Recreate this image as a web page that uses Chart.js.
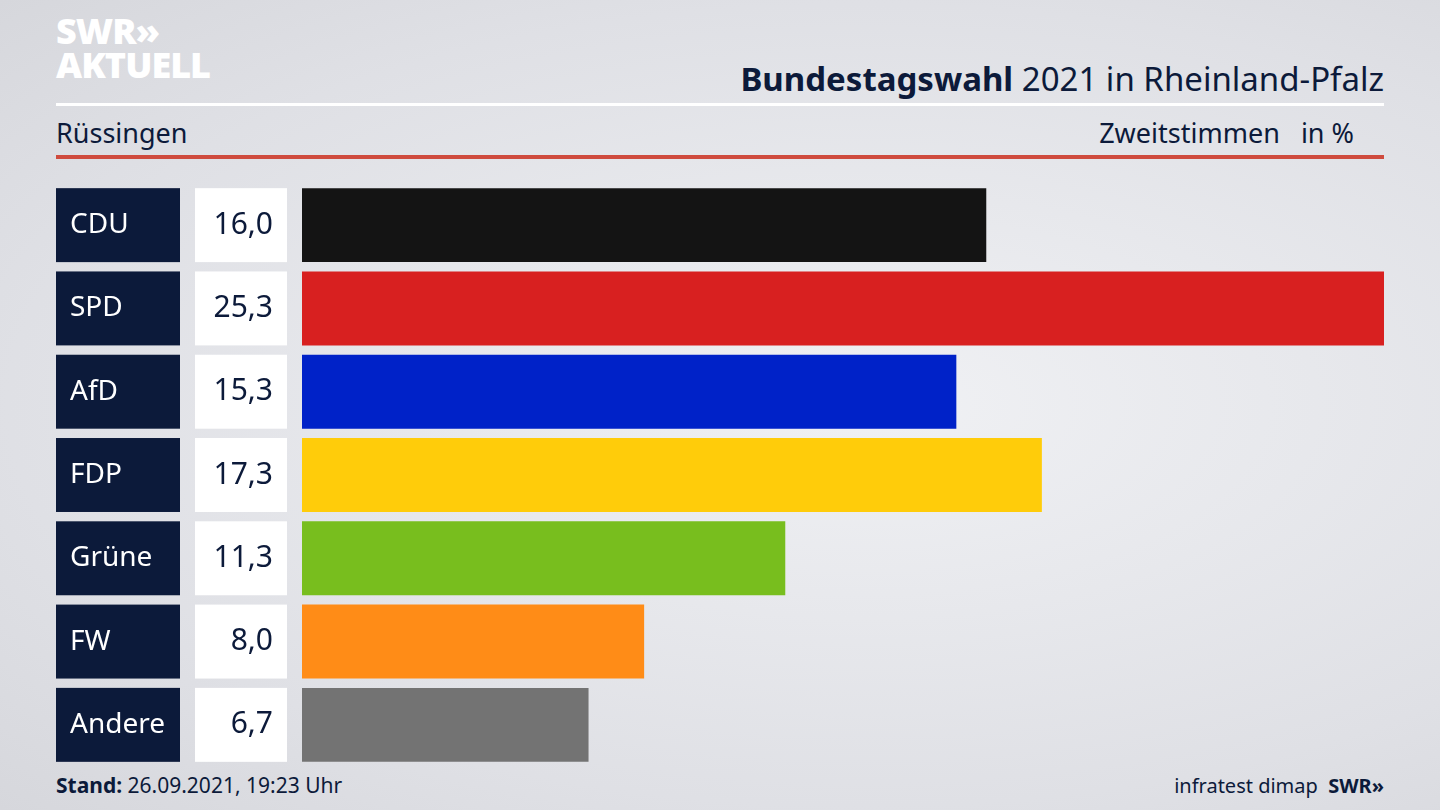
<!DOCTYPE html>
<html><head><meta charset="utf-8">
<script src="https://cdn.jsdelivr.net/npm/chart.js@4"></script>
<style>
body{margin:0;width:1440px;height:810px;overflow:hidden;font-family:"Noto Sans",sans-serif;
 background:radial-gradient(ellipse at 60% 50%,#f0f1f4 0%,#dfe0e5 70%,#d6d7dc 100%);color:#0c1a3a;position:relative}
.abs{position:absolute}
#c{position:absolute;left:0;top:0}
</style></head><body>
<div class="abs" style="left:56px;top:14px;color:#fff;font-weight:900;font-size:36px;line-height:34px;letter-spacing:-1px">SWR»<br>AKTUELL</div>
<div class="abs" style="right:56px;top:56px;font-size:33px"><b>Bundestagswahl</b> 2021 in Rheinland-Pfalz</div>
<div class="abs" style="left:56px;top:103px;width:1328px;height:3px;background:#fff"></div>
<div class="abs" style="left:56px;top:114px;font-size:27px">Rüssingen</div>
<div class="abs" style="right:86px;top:114px;font-size:27px">Zweitstimmen&nbsp;&nbsp;&nbsp;in %</div>
<div class="abs" style="left:56px;top:155px;width:1328px;height:4px;background:#cf4b3e"></div>
<div class="abs" style="left:56px;top:771px;font-size:21px"><b>Stand:</b> 26.09.2021, 19:23 Uhr</div>
<div class="abs" style="right:56px;top:772px;font-size:20px">infratest dimap&nbsp; <b>SWR»</b></div>
<canvas id="c" width="1440" height="810"></canvas>
<script>
const parties = ["CDU", "SPD", "AfD", "FDP", "Grüne", "FW", "Andere"];
const shares = [16.0, 25.3, 15.3, 17.3, 11.3, 8.0, 6.7];
const colors = ["#141414", "#d82020", "#0022c8", "#ffcc0a", "#78be1e", "#ff8c17", "#737373"];

const sidePlugin = {
    id: "side",
    afterDatasetsDraw(chart) {
        const ctx = chart.ctx;
        const meta = chart.getDatasetMeta(0);
        ctx.save();
        meta.data.forEach((bar, i) => {
            const h = bar.height;
            const top = bar.y - h / 2;
            ctx.fillStyle = "#0c1a3a";
            ctx.fillRect(56, top, 124, h);
            ctx.fillStyle = "#fff";
            ctx.fillRect(195, top, 92, h);
            ctx.textBaseline = "middle";
            ctx.font = "28px 'Noto Sans'";
            ctx.textAlign = "left";
            ctx.fillText(parties[i], 70, bar.y);
            ctx.fillStyle = "#0c1a3a";
            ctx.font = "30px 'Noto Sans'";
            ctx.textAlign = "right";
            ctx.fillText(shares[i].toFixed(1).replace(".", ","), 273, bar.y);
        });
        ctx.restore();
    },
};

new Chart(document.getElementById("c"), {
    type: "bar",
    data: {
        labels: parties,
        datasets: [{ data: shares, backgroundColor: colors, barPercentage: 0.888, categoryPercentage: 1 }],
    },
    options: {
        indexAxis: "y",
        responsive: false,
        animation: false,
        layout: { padding: { left: 302, right: 56, top: 183.5, bottom: 43.5 } },
        plugins: { legend: { display: false }, tooltip: { enabled: false } },
        scales: {
            x: { display: false, min: 0, max: 25.3 },
            y: { display: false },
        },
    },
    plugins: [sidePlugin],
});
</script>
</body></html>
